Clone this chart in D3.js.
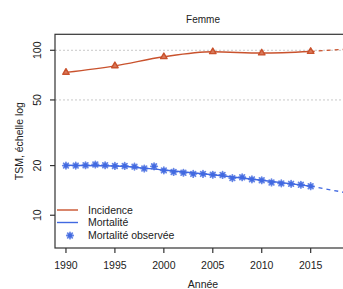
<!DOCTYPE html>
<html><head><meta charset="utf-8">
<script src="https://cdn.jsdelivr.net/npm/d3@7"></script>
<style>body{margin:0;background:#fff}svg{display:block;font-family:"Liberation Sans",Arial,sans-serif}</style>
</head><body><svg id="c" width="343" height="289"></svg>
<script>
const title = "Femme";
const xLabel = "Année";
const yLabel = "TSM, échelle log";
const xTicks = [1990, 1995, 2000, 2005, 2010, 2015];
const yTicks = [10, 20, 50, 100];
const gridValues = [50, 100];
const incYears = [1990, 1995, 2000, 2005, 2010, 2015];
const incValues = [73.4, 80.5, 91.3, 97.9, 96.2, 98.3];
const incProjYears = [2015, 2018, 2020];
const incProjValues = [98.3, 101, 102];
const mortModelYears = [1990, 1995, 2000, 2005, 2010, 2015];
const mortModelValues = [20.1, 19.9, 18.8, 17.6, 16.3, 15.0];
const mortProjYears = [2015, 2018, 2020];
const mortProjValues = [15.0, 13.9, 13.2];
const obsYears = d3.range(1990, 2016);
const obsValues = [20.0, 20.0, 20.1, 20.3, 20.1, 19.9, 19.9, 19.7, 19.2, 19.8,
  18.7, 18.3, 18.1, 17.8, 17.8, 17.6, 17.55, 16.8, 17.0, 16.5,
  16.3, 15.8, 15.6, 15.5, 15.3, 15.0];
const legendLabels = ["Incidence", "Mortalité", "Mortalité observée"];
const colInc = "#C9522D", colMort = "#4169E1";

const svg = d3.select("#c");
const L = 55, R = 351, T = 34.3, B = 248;
const x = d3.scaleLinear().domain([1988.88, 2019.12]).range([L, R]);
const y = d3.scaleLog().domain([6.33, 125]).range([B, T]);

svg.append("defs").append("clipPath").attr("id", "clip")
  .append("rect").attr("x", L).attr("y", T).attr("width", R - L).attr("height", B - T);

svg.append("g").selectAll("line").data(gridValues).join("line")
  .attr("x1", L).attr("x2", R).attr("y1", d => y(d)).attr("y2", d => y(d))
  .attr("stroke", "#c8c8c8").attr("stroke-width", 1).attr("stroke-dasharray", "2,2");

const plot = svg.append("g").attr("clip-path", "url(#clip)");
const line = d3.line().x(d => x(d[0])).y(d => y(d[1])).curve(d3.curveMonotoneX);

plot.append("path").datum(d3.zip(incYears, incValues)).attr("d", line)
  .attr("fill", "none").attr("stroke", colInc).attr("stroke-width", 1.4);
plot.append("path").datum(d3.zip(incProjYears, incProjValues)).attr("d", line)
  .attr("fill", "none").attr("stroke", colInc).attr("stroke-width", 1.4).attr("stroke-dasharray", "4,4");
plot.append("path").datum(d3.zip(mortModelYears, mortModelValues)).attr("d", line)
  .attr("fill", "none").attr("stroke", colMort).attr("stroke-width", 1.4);
plot.append("path").datum(d3.zip(mortProjYears, mortProjValues)).attr("d", line)
  .attr("fill", "none").attr("stroke", colMort).attr("stroke-width", 1.4).attr("stroke-dasharray", "4,4");

const tri = d3.symbol().type(d3.symbolTriangle).size(18);
plot.append("g").selectAll("path").data(d3.zip(incYears, incValues)).join("path")
  .attr("d", tri).attr("transform", d => `translate(${x(d[0])},${y(d[1])})`)
  .attr("fill", "#d8785a").attr("stroke", colInc).attr("stroke-width", 1.4).attr("stroke-linejoin", "round");

function star(g, cx, cy) {
  const r = 3.2, r2 = 2.3;
  g.append("path").attr("d",
    `M${cx - r},${cy}L${cx + r},${cy}M${cx},${cy - r}L${cx},${cy + r}` +
    `M${cx - r2},${cy - r2}L${cx + r2},${cy + r2}M${cx - r2},${cy + r2}L${cx + r2},${cy - r2}`)
    .attr("stroke", colMort).attr("stroke-width", 1.8).attr("stroke-linecap", "round").attr("opacity", 0.8);
  g.append("circle").attr("cx", cx).attr("cy", cy).attr("r", 2.1).attr("fill", colMort);
}
const sg = plot.append("g");
d3.zip(obsYears, obsValues).forEach(d => star(sg, x(d[0]), y(d[1])));

svg.append("rect").attr("x", L).attr("y", T).attr("width", R - L).attr("height", B - T)
  .attr("fill", "none").attr("stroke", "#333").attr("stroke-width", 1.2);

const xa = svg.append("g");
xa.selectAll("line").data(xTicks).join("line")
  .attr("x1", d => x(d)).attr("x2", d => x(d)).attr("y1", B).attr("y2", B + 5)
  .attr("stroke", "#333").attr("stroke-width", 1.2);
xa.selectAll("text").data(xTicks).join("text")
  .attr("x", d => x(d)).attr("y", 269).attr("text-anchor", "middle")
  .attr("font-size", 10.5).attr("fill", "#222").text(d => d);

const ya = svg.append("g");
ya.selectAll("line").data(yTicks).join("line")
  .attr("x1", L - 5).attr("x2", L).attr("y1", d => y(d)).attr("y2", d => y(d))
  .attr("stroke", "#333").attr("stroke-width", 1.2);
ya.selectAll("text").data(yTicks).join("text")
  .attr("transform", d => `translate(41,${y(d)}) rotate(-90)`)
  .attr("text-anchor", "middle").attr("font-size", 10.5).attr("fill", "#222").text(d => d);

svg.append("text").attr("x", 203).attr("y", 23).attr("text-anchor", "middle")
  .attr("font-size", 10).attr("fill", "#222").text(title);
svg.append("text").attr("x", 203).attr("y", 288).attr("text-anchor", "middle")
  .attr("font-size", 10.5).attr("fill", "#222").text(xLabel);
svg.append("text").attr("transform", `translate(23,${(T + B) / 2}) rotate(-90)`)
  .attr("text-anchor", "middle").attr("font-size", 10.5).attr("fill", "#222").text(yLabel);

const lg = svg.append("g");
const ly = [210, 222.5, 235.5];
lg.append("line").attr("x1", 57).attr("x2", 78).attr("y1", ly[0]).attr("y2", ly[0]).attr("stroke", colInc).attr("stroke-width", 1.4);
lg.append("line").attr("x1", 57).attr("x2", 78).attr("y1", ly[1]).attr("y2", ly[1]).attr("stroke", colMort).attr("stroke-width", 1.4);
star(lg, 70, ly[2]);
lg.selectAll("text").data(legendLabels).join("text")
  .attr("x", 88).attr("y", (d, i) => ly[i] + 3.8).attr("font-size", 10.5).attr("fill", "#222").text(d => d);
</script></body></html>
